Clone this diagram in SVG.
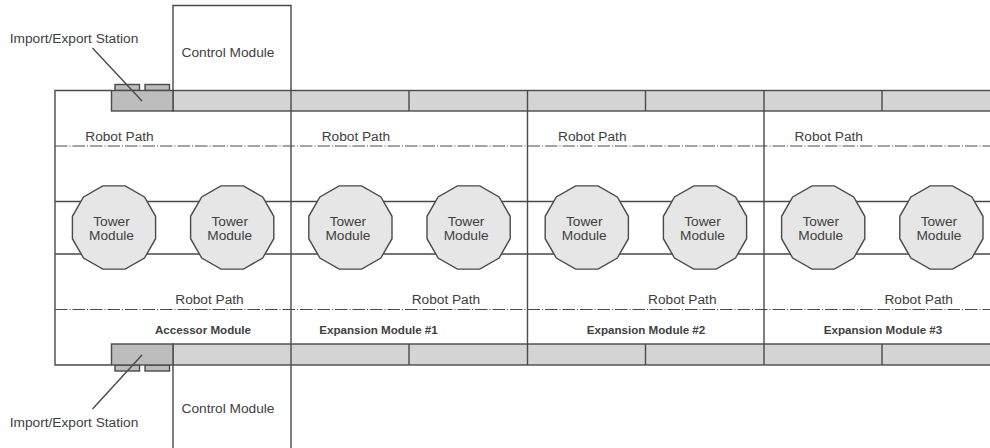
<svg xmlns="http://www.w3.org/2000/svg" width="990" height="448" viewBox="0 0 990 448">
<style>
text{font-family:"Liberation Sans",Arial,sans-serif;fill:#404040;font-size:13.7px}
.c{text-anchor:middle}
.b{font-weight:bold;font-size:11.6px;text-anchor:middle}
.l{fill:none;stroke:#4a4a4a;stroke-width:1.4}
.d{fill:none;stroke:#4a4a4a;stroke-width:1.1;stroke-dasharray:12.500 2 1 2}
.s{fill:#d4d4d4;stroke:#4a4a4a;stroke-width:1.4}
.k{fill:#bcbcbc;stroke:#4a4a4a;stroke-width:1.4}
.t{fill:#e6e6e6;stroke:#4a4a4a;stroke-width:1.4}
</style>
<defs>
<polygon id="dod" points="-11.2,-41.6 11.2,-41.6 30.5,-30.5 41.6,-11.2 41.6,11.2 30.5,30.5 11.2,41.6 -11.2,41.6 -30.5,30.5 -41.6,11.2 -41.6,-11.2 -30.500,-30.500"/>
</defs>
<g id="frame">
<rect class="s" x="173" y="90.500" width="830" height="20.500"/>
<rect class="s" x="173" y="344" width="830" height="21"/>
<path class="l" d="M111 90.500H55V365H111"/>
</g>
<g id="connectors">
<path class="l" d="M55 201.500H990M55 254H990"/>
<path class="d" d="M55 146H990M55 309.500H990"/>
<path class="l" d="M291 90.500V365M527.500 90.500V365M764 90.500V365"/>
<path class="l" d="M409 90.500V111M645.500 90.500V111M882 90.500V111M409 344V365M645.500 344V365M882 344V365"/>
</g>
<g id="control-top"><path class="l" d="M173 90V5.500H291V90"/><text x="228" y="57" class="c">Control Module</text></g>
<g id="control-bottom"><path class="l" d="M173 365V448M291 365V448"/><text x="228" y="413" class="c">Control Module</text></g>
<g id="station-top">
<rect class="k" x="115" y="84.500" width="24.500" height="6"/>
<rect class="k" x="145" y="84.500" width="24.500" height="6"/>
<rect class="k" x="111.500" y="90.500" width="61.500" height="20.500"/>
<path class="l" d="M92.500 48L142 101"/>
<text x="74" y="43" class="c">Import/Export Station</text>
</g>
<g id="station-bottom">
<rect class="k" x="115" y="365" width="24.500" height="6"/>
<rect class="k" x="145" y="365" width="24.500" height="6"/>
<rect class="k" x="111.500" y="344" width="61.500" height="21"/>
<path class="l" d="M92.500 409L142 355"/>
<text x="74" y="427" class="c">Import/Export Station</text>
</g>
<g id="tower-1"><use href="#dod" class="t" x="114" y="227.500"/><text x="111.500" y="226" class="c">Tower</text><text x="111.500" y="240" class="c">Module</text></g>
<g id="tower-2"><use href="#dod" class="t" x="232.200" y="227.500"/><text x="229.700" y="226" class="c">Tower</text><text x="229.700" y="240" class="c">Module</text></g>
<g id="tower-3"><use href="#dod" class="t" x="350.400" y="227.500"/><text x="347.900" y="226" class="c">Tower</text><text x="347.900" y="240" class="c">Module</text></g>
<g id="tower-4"><use href="#dod" class="t" x="468.600" y="227.500"/><text x="466.100" y="226" class="c">Tower</text><text x="466.100" y="240" class="c">Module</text></g>
<g id="tower-5"><use href="#dod" class="t" x="586.800" y="227.500"/><text x="584.300" y="226" class="c">Tower</text><text x="584.300" y="240" class="c">Module</text></g>
<g id="tower-6"><use href="#dod" class="t" x="705" y="227.500"/><text x="702.500" y="226" class="c">Tower</text><text x="702.500" y="240" class="c">Module</text></g>
<g id="tower-7"><use href="#dod" class="t" x="823.200" y="227.500"/><text x="820.700" y="226" class="c">Tower</text><text x="820.700" y="240" class="c">Module</text></g>
<g id="tower-8"><use href="#dod" class="t" x="941.400" y="227.500"/><text x="938.900" y="226" class="c">Tower</text><text x="938.900" y="240" class="c">Module</text></g>
<g id="labels">
<text x="119.500" y="141" class="c">Robot Path</text>
<text x="355.900" y="141" class="c">Robot Path</text>
<text x="592.300" y="141" class="c">Robot Path</text>
<text x="828.700" y="141" class="c">Robot Path</text>
<text x="209.500" y="304" class="c">Robot Path</text>
<text x="445.900" y="304" class="c">Robot Path</text>
<text x="682.300" y="304" class="c">Robot Path</text>
<text x="918.700" y="304" class="c">Robot Path</text>
<text x="203" y="334" class="b">Accessor Module</text>
<text x="378.500" y="334" class="b">Expansion Module #1</text>
<text x="646" y="334" class="b">Expansion Module #2</text>
<text x="883" y="334" class="b">Expansion Module #3</text>
</g>
</svg>
